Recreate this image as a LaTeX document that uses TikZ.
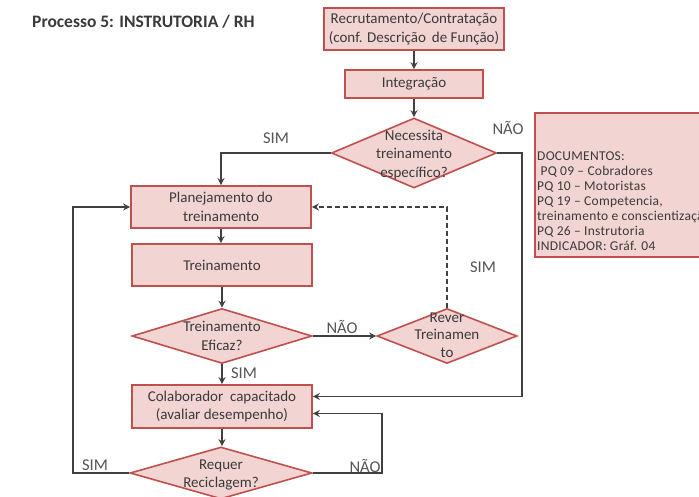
\documentclass[tikz,border=0pt]{standalone}
\usepackage{fontspec}
\setmainfont{Carlito}
\usetikzlibrary{shapes.geometric,arrows.meta}
\definecolor{boxfill}{HTML}{F2D4D3}
\definecolor{boxdraw}{HTML}{C0504D}
\definecolor{linec}{HTML}{404040}
\definecolor{txtc}{HTML}{3A3A3A}
\definecolor{lblc}{HTML}{555555}
\tikzset{
  x=1pt,y=-1pt,
  procbox/.style={draw=boxdraw,fill=boxfill,line width=1.6pt,minimum width=#1,minimum height=42pt,inner sep=0pt,align=center,text=txtc,font=\fontsize{15}{18.5}\selectfont},
  procbox/.default=180pt,
  decbox/.style n args={2}{draw=boxdraw,fill=boxfill,line width=1.6pt,diamond,aspect=2,minimum width=#1,minimum height=#2,inner sep=0pt},
  dtext/.style={align=center,text=txtc,font=\fontsize{15}{18.5}\selectfont},
  arr/.style={draw=linec,line width=1.6pt,-{Stealth[length=7pt,width=7pt]}},
  lbl/.style={text=lblc,font=\fontsize{16.5}{18}\selectfont,inner sep=0pt},
}
\begin{document}
\begin{tikzpicture}
\useasboundingbox (0,0) rectangle (699,497);
\clip (0,0) rectangle (699,497);
\fill[white] (0,0) rectangle (699,497);

\node[anchor=west,inner sep=0pt,text=txtc,font=\bfseries\fontsize{17.5}{20}\selectfont] (title) at (32,22) {Processo 5: INSTRUTORIA / RH};

\node[procbox=180pt] (rec) at (414,29) {Recrutamento/Contratação\\(conf. Descrição\, de Função)};
\node[procbox=138pt,minimum height=28pt] (integ) at (414,84) {Integração};
\node[decbox={165pt}{70pt}] (nec) at (414,153) {};
\node[dtext] (nect) at (414,155) {Necessita\\treinamento\\específico?};

\node[procbox=180pt] (plan) at (221,207) {Planejamento do\\treinamento};
\node[procbox=180pt] (trein) at (222,265) {Treinamento};
\node[decbox={180pt}{55pt}] (efic) at (222,336) {};
\node[dtext] (efict) at (222,336) {Treinamento\\Eficaz?};
\node[decbox={140pt}{55pt}] (rever) at (447,336) {};
\node[dtext,font=\fontsize{15}{17.5}\selectfont] (revert) at (447,335) {Rever\\Treinamen\\to};
\node[procbox=180pt,minimum height=43pt] (colab) at (222,406.5) {Colaborador\ \ capacitado\\(avaliar desempenho)};
\node[decbox={182pt}{52pt}] (req) at (221,473) {};
\node[dtext] (reqt) at (221,475) {Requer\\Reciclagem?};

% documents box
\filldraw[draw=boxdraw,fill=boxfill,line width=1.6pt] (535,113) rectangle (720,257);
\node[anchor=north west,inner sep=0pt,align=left,text=txtc,font=\fontsize{13.5}{15}\selectfont\addfontfeatures{LetterSpace=2}] (docs) at (537,152)
 {DOCUMENTOS:\\\ PQ 09 -- Cobradores\\PQ 10 -- Motoristas\\PQ 19 -- Competencia,\\treinamento e conscientização\\PQ 26 -- Instrutoria\\INDICADOR: Gráf. 04};

\coordinate (noright) at (522,0);
\coordinate (loopleft) at (73,0);
\coordinate (loopright) at (382,0);

% connectors
\draw[arr] (rec) -- (integ);
\draw[arr] (integ) -- (nec);
\draw[arr] (nec.west) -| (plan.north);
\draw[arr] (nec.east) -- (nec.east -| noright) |- ([yshift=10pt]colab.east);
\draw[arr] (plan.south) -- (plan.south |- trein.north);
\draw[arr] (trein.south) -- (efic.north);
\draw[arr] (efic.east) -- (rever.west);
\draw[arr] (efic.south) -- (colab.north);
\draw[arr,dashed,dash pattern=on 5pt off 3pt,line width=1.5pt] (rever.north) -- (rever.north |- plan.east) -- (plan.east);
\draw[arr] (colab.south) -- (colab.south |- req.north);
\draw[arr] (req.east) -- (req.east -| loopright) |- ([yshift=-7pt]colab.east);
\draw[arr] (req.west) -- (req.west -| loopleft) |- (plan.west);

% labels
\node[lbl] (l1) at (276,138) {SIM};
\node[lbl] (l2) at (508,128) {NÃO};
\node[lbl] (l3) at (342,327) {NÃO};
\node[lbl] (l4) at (483,267) {SIM};
\node[lbl] (l5) at (244,373) {SIM};
\node[lbl] (l6) at (95,465) {SIM};
\node[lbl] (l7) at (365,466) {NÃO};
\end{tikzpicture}
\end{document}
